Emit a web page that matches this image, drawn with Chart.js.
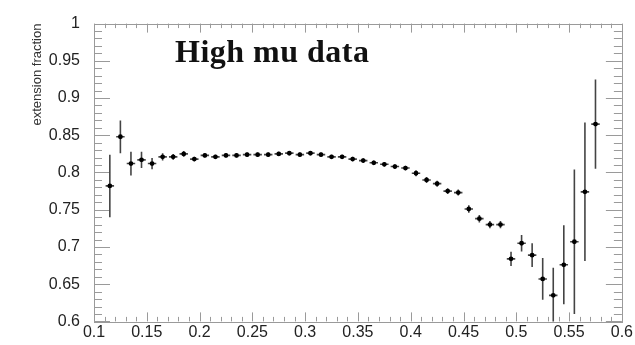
<!DOCTYPE html>
<html><head><meta charset="utf-8">
<script src="https://cdn.jsdelivr.net/npm/chart.js@4.4.1/dist/chart.umd.min.js"></script>
<style>html,body{margin:0;padding:0;background:#fff}#wrap{width:635px;height:345px;position:relative}</style>
</head><body><div id="wrap"><canvas id="c" width="635" height="345"></canvas></div>
<script>
const xCenters = [0.115,0.125,0.135,0.145,0.155,0.165,0.175,0.185,0.195,0.205,
  0.215,0.225,0.235,0.245,0.255,0.265,0.275,0.285,0.295,0.305,
  0.315,0.325,0.335,0.345,0.355,0.365,0.375,0.385,0.395,0.405,
  0.415,0.425,0.435,0.445,0.455,0.465,0.475,0.485,0.495,0.505,
  0.515,0.525,0.535,0.545,0.555,0.565,0.575];
const yValues = [0.782,0.848,0.812,0.817,0.812,0.821,0.821,0.825,0.818,0.823,
  0.821,0.823,0.823,0.824,0.824,0.824,0.825,0.826,0.824,0.826,
  0.824,0.821,0.821,0.818,0.816,0.813,0.811,0.808,0.806,0.799,
  0.790,0.785,0.775,0.773,0.751,0.738,0.730,0.730,0.684,0.705,
  0.689,0.657,0.635,0.676,0.707,0.774,0.865];
const yErrors = [0.042,0.022,0.016,0.011,0.0075,0.005,0.004,0.004,0.003,0.003,
  0.003,0.003,0.003,0.003,0.003,0.003,0.003,0.003,0.003,0.003,
  0.003,0.003,0.003,0.003,0.003,0.003,0.003,0.003,0.003,0.004,
  0.004,0.004,0.004,0.004,0.005,0.005,0.005,0.005,0.0096,0.011,
  0.016,0.028,0.037,0.053,0.097,0.093,0.060];
const xErrors = [0.004,0.004,0.004,0.004,0.004,0.004,0.004,0.004,0.004,0.004,
  0.004,0.004,0.004,0.004,0.004,0.004,0.004,0.004,0.004,0.004,
  0.004,0.004,0.004,0.004,0.004,0.004,0.004,0.004,0.004,0.004,
  0.004,0.004,0.004,0.004,0.004,0.004,0.004,0.004,0.004,0.004,
  0.004,0.004,0.004,0.004,0.004,0.004,0.004];
const xTickLabels = ['0.1','0.15','0.2','0.25','0.3','0.35','0.4','0.45','0.5','0.55','0.6'];
const yTickLabels = ['0.6','0.65','0.7','0.75','0.8','0.85','0.9','0.95','1'];
const plotTitle = 'High mu data';
const yAxisTitle = 'extension fraction';

const xTickValues = xTickLabels.map(parseFloat);
const yTickValues = yTickLabels.map(parseFloat);
const points = xCenters.map((x,i)=>({x:x, y:yValues[i], ey:yErrors[i], ex:xErrors[i]}));

const AXIS_COLOR = '#9a9a9a';
const framePlugin = {
  id:'frame',
  beforeDatasetsDraw(chart){
    const {ctx, chartArea:a, scales:{x,y}} = chart;
    ctx.save();
    ctx.strokeStyle = AXIS_COLOR; ctx.lineWidth = 1;
    ctx.strokeRect(Math.round(a.left)+0.5, Math.round(a.top)+0.5, Math.round(a.right-a.left), Math.round(a.bottom-a.top));
    ctx.beginPath();
    for (let i=0;i<=50;i++){
      const v = x.min + i*(x.max-x.min)/50;
      const px = Math.round(x.getPixelForValue(v))+0.5;
      const len = (i%5===0)?9:4.5;
      ctx.moveTo(px,a.bottom); ctx.lineTo(px,a.bottom-len);
      ctx.moveTo(px,a.top); ctx.lineTo(px,a.top+len);
    }
    for (let i=0;i<=40;i++){
      const v = y.min + i*(y.max-y.min)/40;
      const py = Math.round(y.getPixelForValue(v))+0.5;
      const len = (i%5===0)?16:8;
      ctx.moveTo(a.left,py); ctx.lineTo(a.left+len,py);
      ctx.moveTo(a.right,py); ctx.lineTo(a.right-len,py);
    }
    ctx.stroke();
    ctx.beginPath();
    ctx.rect(a.left,a.top,a.right-a.left,a.bottom-a.top);
    ctx.clip();
    ctx.strokeStyle = '#444'; ctx.lineWidth = 1.6;
    ctx.beginPath();
    points.forEach(p=>{
      const px = x.getPixelForValue(p.x);
      const py = y.getPixelForValue(p.y);
      ctx.moveTo(px, y.getPixelForValue(p.y+p.ey));
      ctx.lineTo(px, y.getPixelForValue(p.y-p.ey));
      ctx.moveTo(x.getPixelForValue(p.x-p.ex), py);
      ctx.lineTo(x.getPixelForValue(p.x+p.ex), py);
    });
    ctx.stroke();
    ctx.restore();
  },
  afterDraw(chart){
    const {ctx} = chart;
    ctx.save();
    ctx.fillStyle = '#111';
    ctx.font = 'bold 32px "Liberation Serif", serif';
    try { ctx.letterSpacing = '0.5px'; } catch(e) {}
    ctx.textBaseline = 'alphabetic';
    ctx.fillText(plotTitle, 175, 62);
    ctx.restore();
  }
};

new Chart(document.getElementById('c'), {
  type:'scatter',
  data:{datasets:[{data:points, pointRadius:2.4, pointBackgroundColor:'#000', pointBorderWidth:0, showLine:false}]},
  options:{
    responsive:false, animation:false, devicePixelRatio:1,
    layout:{padding:{top:10,right:13,left:0,bottom:0}, autoPadding:false},
    plugins:{legend:{display:false}, tooltip:{enabled:false}},
    scales:{
      x:{type:'linear', min:0.1, max:0.6,
        afterBuildTicks:s=>{s.ticks = xTickValues.map(v=>({value:v}));},
        afterFit:s=>{s.height = 22;},
        grid:{display:false, drawTicks:false}, border:{display:false},
        ticks:{autoSkip:false, maxRotation:0, padding:2, color:'#222', font:{family:'"Liberation Sans", Arial, sans-serif', size:16},
          callback:(v,i)=>xTickLabels[i]}
      },
      y:{type:'linear', min:0.6, max:1,
        afterBuildTicks:s=>{s.ticks = yTickValues.map(v=>({value:v}));},
        afterFit:s=>{s.width = 94;},
        grid:{display:false, drawTicks:false}, border:{display:false},
        title:{display:true, text:yAxisTitle, align:'end', color:'#333', font:{family:'"Liberation Sans", Arial, sans-serif', size:13}, padding:{top:30,bottom:0}},
        ticks:{autoSkip:false, padding:14, color:'#222', font:{family:'"Liberation Sans", Arial, sans-serif', size:16},
          callback:(v,i)=>yTickLabels[i]}
      }
    }
  },
  plugins:[framePlugin]
});
</script></body></html>
